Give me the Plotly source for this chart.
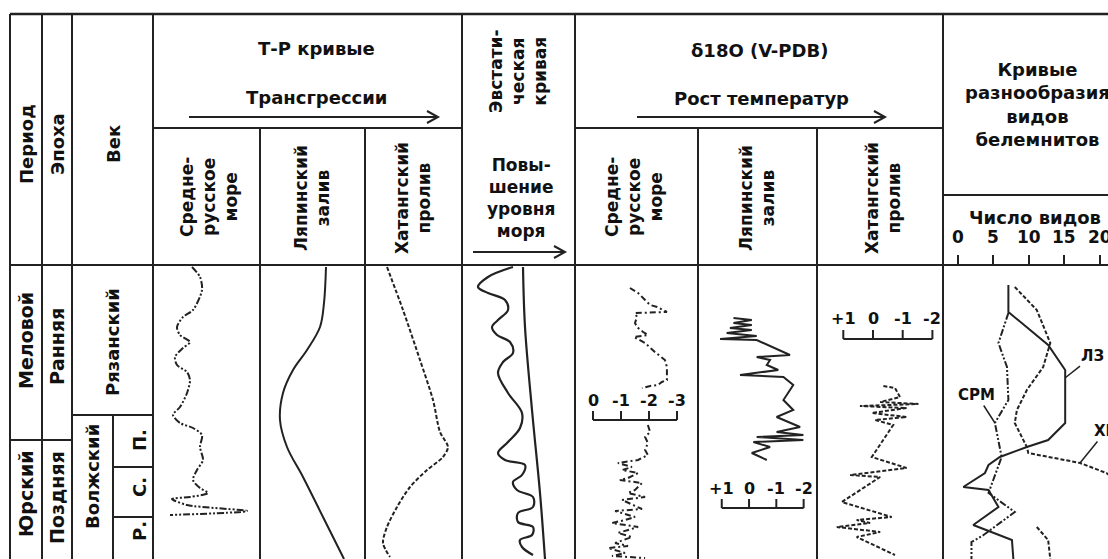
import plotly.graph_objects as go

W, H = 1108, 559

def X(px):
    return px / W

def Y(py):
    return 1 - py / H

# ------------------------------------------------------------------ data
# depth = relative stratigraphic position inside the chart body (0 = top, 294 = bottom)

# T-R curves (relative transgression units inside each column)
tr_srm_depth = [2, 12, 25, 45, 52, 62, 70, 77, 83, 92, 100, 107, 115, 128, 142, 150, 158, 163, 170, 182,
                195, 205, 215, 223, 228, 232, 234, 240, 246, 250]
tr_srm_value = [39, 47, 49, 40, 30, 24, 27, 37, 30, 22, 24, 34, 37, 34, 27, 20, 27, 40, 49, 47,
                50, 44, 40, 47, 55, 37, 19, 34, 94, 17]

tr_lz_depth = [2, 38, 62, 85, 105, 128, 155, 182, 212, 252, 294]
tr_lz_value = [66, 64, 60, 47, 33, 23, 20, 27, 43, 63, 84]

tr_hp_depth = [2, 45, 95, 135, 167, 182, 192, 205, 222, 242, 262, 278, 292]
tr_hp_value = [22, 38, 55, 68, 75, 83, 78, 62, 45, 32, 22, 18, 25]

# eustatic curve (relative sea level)
eust_depth = [2, 12, 22, 28, 35, 45, 55, 62, 70, 77, 88, 97, 108, 128, 148, 163, 177, 188, 195, 200,
              210, 217, 225, 232, 242, 248, 257, 262, 270, 275, 282, 290]
eust_value = [51, 26, 16, 26, 43, 46, 36, 30, 35, 48, 51, 41, 36, 46, 60, 58, 46, 36, 43, 63,
              60, 51, 55, 71, 71, 56, 56, 71, 70, 58, 60, 71]
trend_depth = [2, 62, 145, 228, 294]
trend_value = [61, 63, 70, 78, 83]

# d18O (per mil V-PDB)
o_srm_depth = [23, 28, 35, 40, 42, 47, 48, 52, 58, 62, 67, 70, 72, 78, 87, 92, 95, 102, 115, 117, 120,
               121, 123,
               None,
               160, 167, 172, 178, 185, 190, 195, 197, 198, 202, 205, 208, 213, 215, 218, 225, 228,
               232, 235, 244, 246, 252, 255, 258, 262, 268, 272, 278, 281, 283, 288, 291, 293]
o_srm_value = [-1.32, -1.61, -1.86, -2.04, -2.29, -2.64, -1.5, -1.57, -1.5, -1.57, -1.79, -1.96, -1.46,
               -1.86, -2.21, -2.46, -2.57, -2.64, -2.64, -2.46, -2.32, -2.04, -1.75,
               None,
               -1.96, -2.04, -1.86, -1.96, -1.86, -1.96, -1.61, -1.14, -0.89, -1.39, -1.04, -1.61,
               -1.25, -0.96, -1.75, -1.5, -1.25, -1.86, -1.04, -1.75, -0.79, -1.5, -1.14, -0.68,
               -1.61, -0.89, -1.39, -0.79, -1.25, -0.54, -1.14, -0.68, -1.86]

o_lz_depth = [53, 55, 58, 60, 63, 65, 68, 71, 74, 75, 90, 92, 95, 100, 105, 110, 112, 120, 135, 145,
              152, 162, 167, 170, 172, 175, 177, 182, 188, 195]
o_lz_value = [0.57, -0.1, 0.57, -0.1, 0.7, -0.1, 0.82, -0.28, 1.06, -0.28, -1.5, -0.28, -0.77, -0.65,
              -1.07, 0.33, -1.26, -1.62, -1.26, -1.62, -1.01, -1.87, -1.01, -1.99, -0.28, -1.99,
              -0.16, -0.77, -0.1, -0.65]

o_hp_depth = [121, 123, 132, 137, 139, 141, 143, 148, 152, 155, 160, 192, 203, 210, 212, 237, 252,
              255, 258, 262, 267, 272, 290]
o_hp_value = [-0.35, -0.74, -0.91, -0.24, -1.53, 0.44, -1.13, 0.04, -1.13, -0.07, -0.68, 0.04, -1.13,
              0.77, -0.24, 1.05, -0.63, 0.55, 0.1, 1.22, -0.24, 0.55, -0.74]

o_srm_ticks = [0, -1, -2, -3]
o_lz_ticks = [1, 0, -1, -2]
o_hp_ticks = [1, 0, -1, -2]
o_srm_ticklabels = ["0", "-1", "-2", "-3"]
o_lz_ticklabels = ["+1", "0", "-1", "-2"]
o_hp_ticklabels = ["+1", "0", "-1", "-2"]

# belemnite species diversity (number of species)
bel_lz_depth = [20, 47, 80, 105, 158, 175, 182, 192, 200, 208, 222, 225, 242, 260, 275, 294]
bel_lz_value = [7.1, 7.1, 12.7, 15.1, 15.1, 12.7, 9.7, 5.9, 4.3, 3.8, 0.75, 4.3, 5.7, 2.15, 7.6, 7.8]

bel_srm_depth = [48, 78, 102, 135, 158, 192, 228, 247, 270, 277, 294]
bel_srm_value = [7.1, 5.7, 6.9, 7.1, 5.2, 6.15, 4.3, 8.0, 3.6, 1.9, 1.9]

bel_hp_depth = [22, 45, 78, 102, 125, 145, 158, 182, 188, 198, 208, 230, None, 262, 275, 294]
bel_hp_value = [8.0, 11.1, 13.0, 12.0, 9.7, 8.3, 8.0, 9.7, 9.9, 17.2, 20.9, 25.0, None, 11.1, 12.7, 13.0]

bel_ticks = [0, 5, 10, 15, 20]

# ------------------------------------------------------------------ figure
LINE = "#222222"
TXT = "#111111"
FONT = "DejaVu Sans"
BODY_DOMAIN = [0, Y(265)]

fig = go.Figure()

def add_curve(xs, ys, axis, dash="solid", width=2, shape="linear", smoothing=1.0):
    fig.add_trace(go.Scatter(
        x=xs, y=ys, xaxis=axis, yaxis="y", mode="lines",
        line=dict(color=LINE, width=width, dash=dash, shape=shape,
                  smoothing=smoothing if shape == "spline" else None),
        hoverinfo="skip", showlegend=False, connectgaps=False))

DDOT = "7px,2px,2px,2px,2px,2px"
DDASH = "6px,3px,2px,3px"
SHORT = "4px,2px"

add_curve(tr_srm_value, tr_srm_depth, "x", DDOT, 2, "spline", 0.8)
add_curve(tr_lz_value, tr_lz_depth, "x2", "solid", 2, "spline", 1.0)
add_curve(tr_hp_value, tr_hp_depth, "x3", SHORT, 2, "spline", 0.8)
add_curve(eust_value, eust_depth, "x4", "solid", 2.2, "spline", 1.0)
add_curve(trend_value, trend_depth, "x4", "solid", 2.2, "spline", 1.0)
add_curve(o_srm_value, o_srm_depth, "x5", DDASH, 2)
add_curve(o_lz_value, o_lz_depth, "x6", "solid", 2)
add_curve(o_hp_value, o_hp_depth, "x7", SHORT, 2)
add_curve(bel_lz_value, bel_lz_depth, "x8", "solid", 2)
add_curve(bel_srm_value, bel_srm_depth, "x8", DDOT, 2)
add_curve(bel_hp_value, bel_hp_depth, "x8", SHORT, 2)

hidden = dict(visible=False, showgrid=False, zeroline=False, fixedrange=True)
layout_axes = dict(
    xaxis=dict(domain=[X(153), X(260)], range=[0, 107], anchor="y", **hidden),
    xaxis2=dict(domain=[X(260), X(365)], range=[0, 105], anchor="y", **hidden),
    xaxis3=dict(domain=[X(365), X(462)], range=[0, 97], anchor="y", **hidden),
    xaxis4=dict(domain=[X(462), X(575)], range=[0, 113], anchor="y", **hidden),
    xaxis5=dict(domain=[X(575), X(698)], range=[0.643, -3.75], anchor="y", **hidden),
    xaxis6=dict(domain=[X(698), X(817)], range=[1.87, -2.49], anchor="y", **hidden),
    xaxis7=dict(domain=[X(817), X(943)], range=[1.886, -2.357], anchor="y", **hidden),
    xaxis8=dict(domain=[X(943), 1], range=[-2.11, 21.13], anchor="free", position=Y(265),
                side="top", showgrid=False, zeroline=False, showline=False,
                ticks="outside", ticklen=10, tickwidth=2, tickcolor=LINE,
                tickvals=bel_ticks, showticklabels=False, fixedrange=True),
    yaxis=dict(domain=BODY_DOMAIN, range=[294, 0], **hidden),
)

shapes = []

def hline(y, x0, x1, w=2):
    shapes.append(dict(type="line", xref="paper", yref="paper", x0=X(x0), x1=X(x1), y0=Y(y), y1=Y(y),
                       line=dict(color=LINE, width=w)))

def vline(x, y0, y1, w=2):
    shapes.append(dict(type="line", xref="paper", yref="paper", x0=X(x), x1=X(x), y0=Y(y0), y1=Y(y1),
                       line=dict(color=LINE, width=w)))

def arrow(x0, x1, y):
    hline(y, x0, x1, 2)
    path = f"M {X(x1-11)} {Y(y-6)} L {X(x1)} {Y(y)} L {X(x1-11)} {Y(y+6)}"
    shapes.append(dict(type="path", xref="paper", yref="paper", path=path,
                       line=dict(color=LINE, width=2)))

# table grid
hline(14, 10, W, 2.5)
hline(265, 10, W, 2)
hline(128, 153, 462)
hline(128, 575, 943)
hline(195, 943, W)
hline(440, 10, 72)
hline(415, 72, 153)
hline(467, 113, 153)
hline(517, 113, 153)
for xv in [10, 42, 72, 153, 462, 575, 943]:
    vline(xv, 14, H)
for xv in [260, 365, 698, 817]:
    vline(xv, 128, H)
vline(113, 415, H)

arrow(189, 438, 117)
arrow(637, 885, 117)
arrow(473, 565, 252)

annotations = []

# isotope scale bars drawn in the data units of each column
def scale_bar(axis, ticks, labels, depth, tick_up, label_depth):
    shapes.append(dict(type="line", xref=axis, yref="y", x0=ticks[0], x1=ticks[-1], y0=depth, y1=depth,
                       line=dict(color=LINE, width=2)))
    for t in ticks:
        shapes.append(dict(type="line", xref=axis, yref="y", x0=t, x1=t, y0=depth, y1=depth - tick_up,
                           line=dict(color=LINE, width=2)))
    for t, lab in zip(ticks, labels):
        annotations.append(dict(x=t, y=label_depth, xref=axis, yref="y", text=f"<b>{lab}</b>",
                                showarrow=False, font=dict(family=FONT, size=16, color=TXT),
                                xanchor="center", yanchor="middle"))

def label(text, x, y, size=18, angle=0):
    annotations.append(dict(x=X(x), y=Y(y), xref="paper", yref="paper", text=f"<b>{text}</b>",
                            showarrow=False, textangle=angle, xanchor="center", yanchor="middle",
                            align="center", font=dict(family=FONT, size=size, color=TXT)))

scale_bar("x5", o_srm_ticks, o_srm_ticklabels, 155, 9, 135)
scale_bar("x6", o_lz_ticks, o_lz_ticklabels, 243, 9, 223)
scale_bar("x7", o_hp_ticks, o_hp_ticklabels, 74, 9, 53)

# belemnite axis tick labels (in species-count units, placed just above the header line)
for t in bel_ticks:
    annotations.append(dict(x=t, y=Y(237), xref="x8", yref="paper", text=f"<b>{t}</b>",
                            showarrow=False, font=dict(family=FONT, size=17, color=TXT),
                            xanchor="center", yanchor="middle"))

# header texts
label("Период", 26, 144, 18, -90)
label("Эпоха", 57, 144, 18, -90)
label("Век", 113, 144, 18, -90)
label("Т-Р кривые", 316, 48, 18)
label("Трансгрессии", 316, 97, 18)
label("Средне-<br>русское<br>море", 209, 197, 17, -90)
label("Ляпинский<br>залив", 312, 198, 17, -90)
label("Хатангский<br>пролив", 413, 198, 17, -90)
label("Эвстати-<br>ческая<br>кривая", 518, 72, 17, -90)
label("Повы-<br>шение<br>уровня<br>моря", 521, 198, 17)
label("δ18O (V-PDB)", 759, 50, 18)
label("Рост температур", 761, 98, 18)
label("Средне-<br>русское<br>море", 634, 197, 17, -90)
label("Ляпинский<br>залив", 757, 198, 17, -90)
label("Хатангский<br>пролив", 883, 198, 17, -90)
label("Кривые<br>разнообразия<br>видов<br>белемнитов", 1037, 104, 18)
label("Число видов", 1035, 217, 18)

# body texts
label("Меловой", 26, 341, 19, -90)
label("Юрский", 26, 494, 19, -90)
label("Ранняя", 57, 347, 19, -90)
label("Поздняя", 57, 498, 19, -90)
label("Рязанский", 112, 342, 18, -90)
label("Волжский", 92, 477, 18, -90)
label("П.", 139, 440, 18, -90)
label("С.", 139, 487, 18, -90)
label("Р.", 139, 531, 18, -90)

# curve labels with leaders
def curve_label(text, xv, dv, ax, ay):
    annotations.append(dict(x=xv, y=dv, xref="x8", yref="y", text=f"<b>{text}</b>", showarrow=True,
                            arrowhead=0, arrowwidth=1.5, arrowcolor=LINE, ax=ax, ay=ay, standoff=0,
                            font=dict(family=FONT, size=15, color=TXT)))

curve_label("ЛЗ", 15.07, 113, 28, -22)
curve_label("СРМ", 5.21, 158, -18, -28)
curve_label("ХП", 17.18, 198, 26, -32)

fig.update_layout(
    width=W, height=H, margin=dict(l=0, r=0, t=0, b=0, pad=0), autosize=False,
    paper_bgcolor="white", plot_bgcolor="white",
    shapes=shapes, annotations=annotations, showlegend=False,
    **layout_axes,
)

fig.write_html("out.html", config={"displayModeBar": False, "responsive": False},
               post_script="document.body.style.margin='0';document.body.style.overflow='hidden';"
                           "document.documentElement.style.overflow='hidden';")
